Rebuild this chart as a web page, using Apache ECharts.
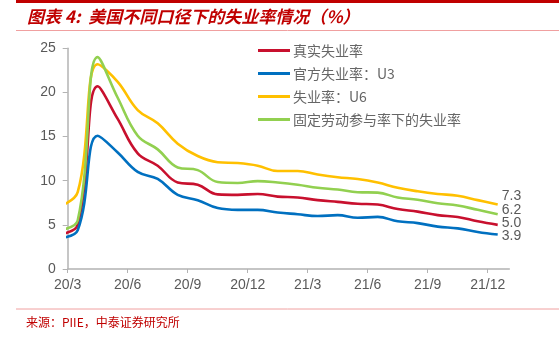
<!DOCTYPE html>
<html>
<head>
<meta charset="utf-8">
<script src="https://cdn.jsdelivr.net/npm/echarts@6/dist/echarts.min.js"></script>
<style>
html,body{margin:0;padding:0;background:#fff;}
#c{width:559px;height:341px;}
</style>
</head>
<body>
<div id="c"></div>
<script>
// Monthly data, Feb 2020 – Dec 2021 (plotted at mid-month)
var months = ['2020-02','2020-03','2020-04','2020-05','2020-06','2020-07','2020-08','2020-09','2020-10','2020-11','2020-12',
  '2021-01','2021-02','2021-03','2021-04','2021-05','2021-06','2021-07','2021-08','2021-09','2021-10','2021-11','2021-12'];
var seriesNames = ['真实失业率','官方失业率：U3','失业率：U6','固定劳动参与率下的失业率'];
var realRate  = [3.9, 5.0, 20.7, 17.0, 13.1, 11.7, 9.8, 9.55, 8.45, 8.4, 8.5, 8.2, 8.1, 7.8, 7.6, 7.4, 7.3, 6.8, 6.5, 6.1, 5.9, 5.4, 5.0];
var u3Rate    = [3.5, 4.4, 15.1, 13.2, 11.0, 10.2, 8.4, 7.8, 6.9, 6.7, 6.7, 6.4, 6.2, 6.0, 6.1, 5.8, 5.9, 5.4, 5.2, 4.8, 4.6, 4.2, 3.9];
var u6Rate    = [7.0, 8.7, 23.2, 21.2, 18.0, 16.5, 14.2, 12.8, 12.1, 12.0, 11.7, 11.1, 11.1, 10.7, 10.4, 10.2, 9.8, 9.2, 8.8, 8.5, 8.3, 7.8, 7.3];
var fixedLfpr = [4.4, 5.5, 24.0, 19.4, 15.1, 13.55, 11.5, 11.2, 9.85, 9.75, 9.95, 9.8, 9.55, 9.2, 9.0, 8.7, 8.65, 8.1, 7.85, 7.45, 7.2, 6.7, 6.2];
var xTickLabels = ['20/3','20/6','20/9','20/12','21/3','21/6','21/9','21/12'];
var yTicks = [0,5,10,15,20,25];

var colors = ['#c8102e','#0070c0','#ffc000','#92d050'];
var endOffsets = [[0,-1.5],[0,1.5],[0,-8.5],[0,-4]];
var allData = [realRate, u3Rate, u6Rate, fixedLfpr];

function pairs(arr){ return arr.map(function(v,i){ return [i, v]; }); }

var chart = echarts.init(document.getElementById('c'), null, {renderer:'canvas'});
var labelFont = '"Liberation Sans", Arial, "Noto Sans CJK SC", sans-serif';
var cjkFont = '"Noto Sans CJK SC", "Liberation Sans", sans-serif';

var series = allData.map(function(d, k){
  return {
    name: seriesNames[k],
    type: 'line',
    xAxisIndex: 1,
    data: pairs(d),
    smooth: 0.4,
    showSymbol: false,
    symbol: 'none',
    clip: true,
    lineStyle: {color: colors[k], width: 2.6},
    itemStyle: {color: colors[k]},
    endLabel: {
      show: true,
      distance: 4,
      offset: endOffsets[k],
      color: '#595959',
      fontSize: 14,
      fontFamily: labelFont,
      formatter: function(p){ return p.value[1].toFixed(1); }
    },
    emphasis: {disabled: true},
    animation: false
  };
});

chart.setOption({
  animation: false,
  grid: {left: 67.7, right: 49.7, top: 48.3, bottom: 72, containLabel: false},
  legend: {
    orient: 'vertical',
    left: 253,
    top: 38.5,
    itemWidth: 32,
    itemHeight: 3,
    itemGap: 9,
    icon: 'rect',
    textStyle: {color: '#666666', fontSize: 14, fontFamily: cjkFont, padding:[0,0,0,-2]},
    data: seriesNames
  },
  xAxis: [{
    type: 'value',
    min: 0,
    max: 22.08,
    interval: 3,
    axisLine: {show: true, lineStyle: {color: '#b3b3b3', width: 1.5}},
    axisTick: {show: true, length: 4, lineStyle: {color: '#b3b3b3', width: 1}},
    splitLine: {show: false},
    axisLabel: {
      color: '#595959', fontSize: 14, fontFamily: labelFont, margin: 9,
      showMaxLabel: false,
      formatter: function(v){ var i = Math.round(v/3); return xTickLabels[i] || ''; }
    }
  },{
    type: 'value',
    min: 0.5,
    max: 22.58,
    show: false
  }],
  yAxis: {
    type: 'value',
    min: yTicks[0],
    max: yTicks[yTicks.length-1],
    interval: 5,
    axisLine: {show: true, lineStyle: {color: '#b3b3b3', width: 1.5}},
    axisTick: {show: true, length: 5, lineStyle: {color: '#b3b3b3', width: 1}},
    splitLine: {show: false},
    axisLabel: {color: '#595959', fontSize: 14, fontFamily: labelFont, margin: 12}
  },
  graphic: [
    {type:'line', shape:{x1:16, y1:1.5, x2:559, y2:1.5}, style:{stroke:'#c00000', lineWidth:3}},
    {type:'text', left: 27, top: 8, style:{text:'图表 4:  美国不同口径下的失业率情况（%）', fill:'#c00000', font:'italic bold 17px "Noto Sans CJK SC", sans-serif'}},
    {type:'line', shape:{x1:16, y1:30.5, x2:559, y2:30.5}, style:{stroke:'#f0a0a0', lineWidth:1}},
    {type:'line', shape:{x1:16, y1:309, x2:559, y2:309}, style:{stroke:'#f0a0a0', lineWidth:1}},
    {type:'text', left: 26, top: 316, style:{text:'来源：PIIE，中泰证券研究所', fill:'#c00000', font:'12px "Noto Sans CJK SC", sans-serif'}}
  ],
  series: series
});
</script>
</body>
</html>
